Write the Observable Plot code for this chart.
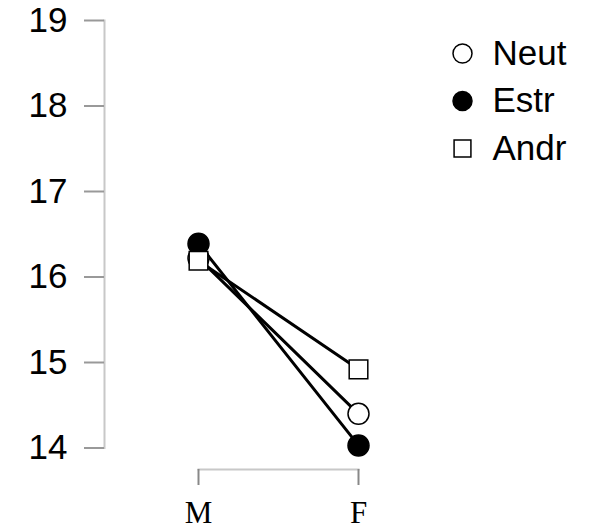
<!DOCTYPE html>
<html>
<head>
<meta charset="utf-8">
<script src="https://cdn.jsdelivr.net/npm/d3@7"></script>
<script src="https://cdn.jsdelivr.net/npm/@observablehq/plot@0.6"></script>
<style>
  body { margin: 0; background: #fff; }
  #chart svg { display: block; background: #fff; }
</style>
</head>
<body>
<div id="chart"></div>
<script>
// Mean response by sex for the three hormone treatments
const sexes = ["M", "F"];
const groups = ["Neut", "Estr", "Andr"];
const neut = [16.22, 14.40];
const estr = [16.39, 14.03];
const andr = [16.19, 14.92];
const yTicks = [14, 15, 16, 17, 18, 19];

const symbols = ["circle", "circle", "square"];
const fills = ["white", "black", "white"];

const seriesValues = { Neut: neut, Estr: estr, Andr: andr };
const data = groups.flatMap(g => sexes.map((s, i) => ({ group: g, sex: s, value: seriesValues[g][i] })));
const fillOf = g => fills[groups.indexOf(g)];

const sans = "Liberation Sans, Arial, Helvetica, sans-serif";
const serif = "Liberation Serif, Times New Roman, serif";

// Legend: one row per treatment, stacked in the top-right corner
const legendMarks = groups.flatMap((g, i) => [
  Plot.dot([g], {
    frameAnchor: "top-left", dx: 358, dy: 33 + i * 47.5,
    symbol: d => d, fill: fillOf(g), stroke: "black", strokeWidth: 1.5, r: 9.5
  }),
  Plot.text([g], {
    frameAnchor: "top-left", dx: 388, dy: 33 + i * 47.5,
    text: d => d, textAnchor: "start", lineAnchor: "middle",
    fontSize: 35, fontFamily: sans, fill: "black"
  })
]);

const chart = Plot.plot({
  width: 600,
  height: 528,
  marginTop: 20,
  marginBottom: 59,
  marginLeft: 104,
  marginRight: 242,
  style: { background: "#fff", overflow: "visible" },
  x: { type: "point", domain: sexes, padding: 0, insetLeft: 94 },
  y: { domain: [yTicks[0], yTicks[yTicks.length - 1]], insetBottom: 21.5 },
  symbol: { domain: groups, range: symbols },
  marks: [
    Plot.frame({ anchor: "left", insetBottom: 21.5, stroke: "#c8c8c8", strokeWidth: 2 }),
    Plot.frame({ anchor: "bottom", insetLeft: 94, stroke: "#c8c8c8", strokeWidth: 2 }),
    Plot.axisY({
      ticks: yTicks, tickFormat: d => String(d), tickSize: 20, tickPadding: 17, label: null,
      fontSize: 35, fontFamily: sans, color: "black", stroke: "#999", strokeWidth: 2
    }),
    Plot.axisX({
      tickSize: 16, tickPadding: 15, label: null,
      fontSize: 31, fontFamily: serif, color: "black", stroke: "#888", strokeWidth: 2
    }),
    Plot.line(data, { x: "sex", y: "value", z: "group", stroke: "black", strokeWidth: 3 }),
    Plot.dot(data, {
      x: "sex", y: "value", symbol: "group",
      fill: d => fillOf(d.group), stroke: "black", strokeWidth: 1.5, r: 10.5
    }),
    ...legendMarks
  ]
});

document.getElementById("chart").appendChild(chart);
</script>
</body>
</html>
